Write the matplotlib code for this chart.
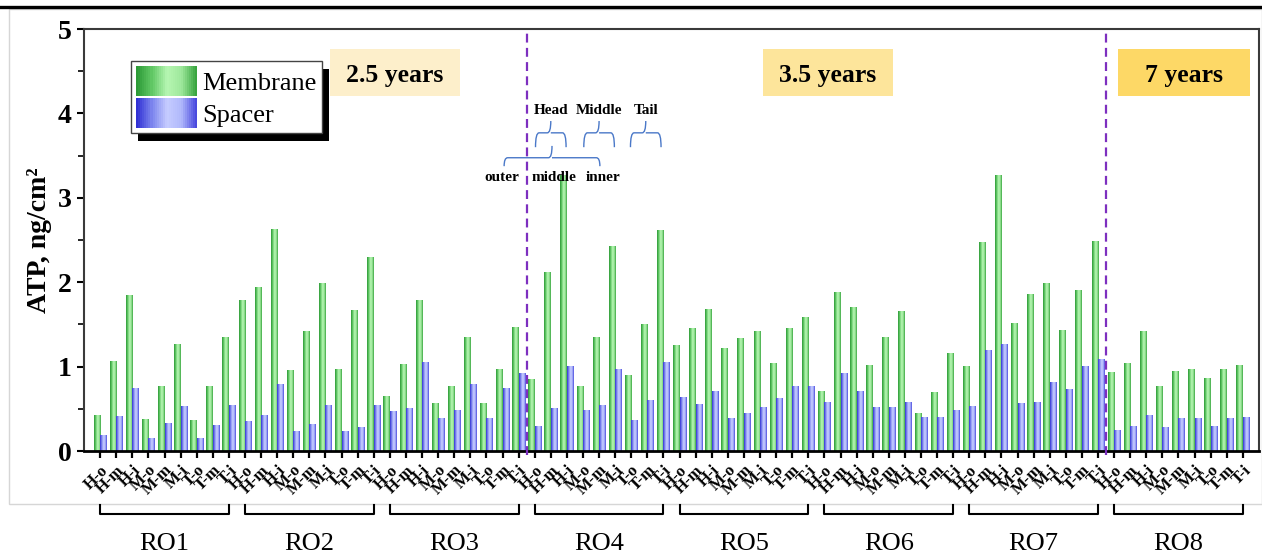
import matplotlib

matplotlib.use("Agg")

import matplotlib.pyplot as plt
import numpy as np
from matplotlib import transforms
from matplotlib.colors import LinearSegmentedColormap
from matplotlib.legend_handler import HandlerBase
from matplotlib.lines import Line2D
from matplotlib.patches import PathPatch, Rectangle
from matplotlib.path import Path


GROUPS = ["RO1", "RO2", "RO3", "RO4", "RO5", "RO6", "RO7", "RO8"]
POSITIONS = ["H-o", "H-m", "H-i", "M-o", "M-m", "M-i", "T-o", "T-m", "T-i"]

# ATP, ng/cm2 -- one row of nine sampling positions per element
MEMBRANE = [
    0.42, 1.06, 1.84, 0.37, 0.77, 1.26, 0.36, 0.77, 1.34,  # RO1
    1.78, 1.94, 2.62, 0.95, 1.41, 1.98, 0.97, 1.66, 2.29,  # RO2
    0.64, 1.03, 1.78, 0.56, 0.77, 1.34, 0.56, 0.96, 1.46,  # RO3
    0.85, 2.11, 3.27, 0.77, 1.35, 2.42, 0.90, 1.50, 2.61,  # RO4
    1.25, 1.45, 1.68, 1.21, 1.33, 1.41, 1.04, 1.45, 1.58,  # RO5
    0.70, 1.88, 1.70, 1.01, 1.35, 1.65, 0.45, 0.69, 1.16,  # RO6
    1.00, 2.47, 3.27, 1.51, 1.85, 1.98, 1.43, 1.90, 2.48,  # RO7
    0.93, 1.04, 1.41, 0.76, 0.94, 0.96, 0.86, 0.96, 1.01,  # RO8
]
SPACER = [
    0.18, 0.41, 0.74, 0.15, 0.33, 0.53, 0.15, 0.30, 0.54,  # RO1
    0.35, 0.42, 0.79, 0.23, 0.31, 0.54, 0.23, 0.28, 0.54,  # RO2
    0.47, 0.50, 1.05, 0.38, 0.48, 0.79, 0.39, 0.74, 0.92,  # RO3
    0.29, 0.50, 1.00, 0.48, 0.54, 0.97, 0.36, 0.60, 1.05,  # RO4
    0.63, 0.55, 0.71, 0.38, 0.44, 0.51, 0.62, 0.77, 0.77,  # RO5
    0.58, 0.92, 0.71, 0.51, 0.52, 0.58, 0.40, 0.40, 0.48,  # RO6
    0.53, 1.19, 1.26, 0.56, 0.58, 0.81, 0.73, 1.00, 1.08,  # RO7
    0.24, 0.29, 0.42, 0.28, 0.38, 0.39, 0.29, 0.38, 0.40,  # RO8
]

AGE_LABELS = ["2.5 years", "3.5 years", "7 years"]
AGE_SPLITS = [3, 7]  # first group index of each new age class
AGE_COLORS = ["#fdefcb", "#fde59b", "#fdd866"]

GREEN = LinearSegmentedColormap.from_list(
    "membrane", ["#2c9a36", "#62c866", "#b6f6b2", "#9ee89c", "#3aa640"]
)
BLUE = LinearSegmentedColormap.from_list(
    "spacer", ["#3030d4", "#7d86ee", "#c6ccff", "#b0b8fb", "#4a4ade"]
)

plt.rcParams["font.family"] = ["Liberation Serif", "DejaVu Serif"]


class GradientHandler(HandlerBase):
    """Legend swatch filled with a horizontal colour gradient."""

    def __init__(self, cmap, n=30):
        super().__init__()
        self.cmap = cmap
        self.n = n

    def create_artists(self, legend, orig_handle, xdescent, ydescent, width, height, fontsize, trans):
        step = width / self.n
        strips = []
        for i in range(self.n):
            strips.append(
                Rectangle(
                    (-xdescent + i * step, -ydescent),
                    step * 1.05,
                    height,
                    facecolor=self.cmap(i / (self.n - 1)),
                    edgecolor="none",
                    transform=trans,
                )
            )
        return strips


def gradient_bars(ax, xs, heights, width, cmap):
    grad = np.linspace(0, 1, 64).reshape(1, -1)
    for x0, h in zip(xs, heights):
        ax.imshow(grad, extent=[x0, x0 + width, 0, h], cmap=cmap, aspect="auto",
                  interpolation="bilinear", zorder=2)


def curly(ax, x0, x1, y, drop, rise, color="#4a78c8", lw=1.0):
    xm = 0.5 * (x0 + x1)
    r = 0.22
    verts = [(x0, y - drop), (x0, y), (x0 + r, y), (xm - r, y), (xm, y), (xm, y + rise),
             (xm, y), (xm + r, y), (x1 - r, y), (x1, y), (x1, y - drop)]
    codes = [Path.MOVETO, Path.CURVE3, Path.CURVE3, Path.LINETO, Path.CURVE3, Path.CURVE3,
             Path.MOVETO, Path.CURVE3, Path.LINETO, Path.CURVE3, Path.CURVE3]
    ax.add_patch(PathPatch(Path(verts, codes), fill=False, edgecolor=color, lw=lw,
                           clip_on=False, zorder=3))


n_pos = len(POSITIONS)
x = np.arange(len(GROUPS) * n_pos)
bar_w = 0.4

fig = plt.figure(figsize=(12.62, 5.56), dpi=100)
ax = fig.add_axes([0.0666, 0.1888, 0.9310, 0.7590])

gradient_bars(ax, x - bar_w, MEMBRANE, bar_w, GREEN)
gradient_bars(ax, x, SPACER, bar_w, BLUE)

ax.set_xlim(-1, len(x))
ax.set_ylim(0, 5)

for split in AGE_SPLITS:
    ax.axvline(split * n_pos - 0.5, ymin=-0.01, color="#7d2fbf", lw=1.6,
               linestyle=(0, (4, 2.4)), zorder=4, clip_on=False)

# axis styling
for side in ("left", "top", "right"):
    ax.spines[side].set_color("#3a3a3a")
    ax.spines[side].set_linewidth(1.5)
ax.spines["bottom"].set_color("black")
ax.spines["bottom"].set_linewidth(2.0)

ax.set_xticks(x)
ax.set_xticklabels(POSITIONS * len(GROUPS), rotation=45, ha="right", va="top",
                   rotation_mode="anchor", fontsize=12, fontweight="bold")
ax.tick_params(axis="x", direction="out", length=5, width=1.6, pad=3)
ax.set_yticks(range(6))
ax.set_yticks(np.arange(0.5, 5, 1.0), minor=True)
ax.set_yticklabels([str(v) for v in range(6)], fontsize=20, fontweight="bold")
ax.tick_params(axis="y", which="major", direction="out", length=5, width=1.5, pad=4)
ax.tick_params(axis="y", which="minor", direction="out", length=4, width=1.2)
ax.set_ylabel("ATP, ng/cm\u00b2", fontsize=20, fontweight="bold", labelpad=4)

# age boxes
age_spans = [(0.2094, 0.3200), (0.5779, 0.6885), (0.8800, 0.9923)]
for label, color, (a0, a1) in zip(AGE_LABELS, AGE_COLORS, age_spans):
    ax.add_patch(Rectangle((a0, 0.841), a1 - a0, 0.112, transform=ax.transAxes,
                           facecolor=color, edgecolor="none", zorder=3))
    ax.text(0.5 * (a0 + a1), 0.89, label, transform=ax.transAxes, ha="center",
            va="center", fontsize=18.5, fontweight="bold", zorder=4)

# sampling position key
for name, xc in [("Head", 28.0), ("Middle", 31.0), ("Tail", 33.9)]:
    ax.text(xc, 4.04, name, ha="center", va="center", fontsize=11, fontweight="bold", zorder=4)
    curly(ax, xc - 0.95, xc + 0.95, 3.77, 0.17, 0.14)
curly(ax, 25.1, 31.05, 3.475, 0.10, 0.14)
for name, xc in [("outer", 24.96), ("middle", 28.2), ("inner", 31.24)]:
    ax.text(xc, 3.24, name, ha="center", va="center", fontsize=11, fontweight="bold", zorder=4)

membrane_key = Rectangle((0, 0), 1, 1)
spacer_key = Rectangle((0, 0), 1, 1)
legend = ax.legend(
    [membrane_key, spacer_key],
    ["Membrane", "Spacer"],
    handler_map={membrane_key: GradientHandler(GREEN), spacer_key: GradientHandler(BLUE)},
    handlelength=2.3,
    handleheight=1.35,
    handletextpad=0.2,
    labelspacing=0.08,
    borderpad=0.2,
    borderaxespad=0,
    loc="upper left",
    bbox_to_anchor=(0.040, 0.924),
    fontsize=19,
    fancybox=False,
    edgecolor="#444444",
    framealpha=1,
)
legend.get_frame().set_linewidth(1.0)
legend.set_zorder(6)

# element brackets and names under the panel
blend = transforms.blended_transform_factory(ax.transData, fig.transFigure)
for g, name in enumerate(GROUPS):
    x0, x1 = g * n_pos, g * n_pos + n_pos - 1
    fig.add_artist(Line2D([x0, x0, x1, x1], [0.0917, 0.0755, 0.0755, 0.0917],
                          transform=blend, color="black", lw=1.5))
    fig.text(0.5 * (x0 + x1), 0.021, name, transform=blend, ha="center", va="center", fontsize=19)

# panel frame and top rule
fig.add_artist(Rectangle((9 / 1262, 1 - 504 / 556), 1 - 9 / 1262, 495 / 556,
                         transform=fig.transFigure, fill=False, edgecolor="#d6d6d6", lw=1.0))
fig.add_artist(Line2D([0, 1], [0.9874, 0.9874], transform=fig.transFigure, color="black", lw=2.4))

# solid black drop shadow behind the legend
fig.canvas.draw()
bb = legend.get_window_extent()
ax.add_artist(Rectangle((bb.x0 + 7, bb.y0 - 8), bb.width, bb.height,
                        transform=transforms.IdentityTransform(), facecolor="black",
                        edgecolor="none", zorder=5.5, clip_on=False))

fig.savefig("out.png", dpi=100)
